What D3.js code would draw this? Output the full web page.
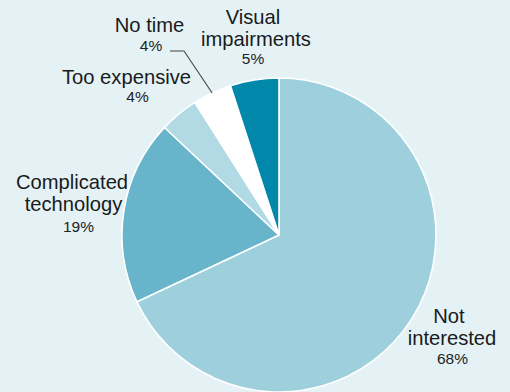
<!DOCTYPE html>
<html>
<head>
<meta charset="utf-8">
<script src="https://cdn.jsdelivr.net/npm/d3@7"></script>
<style>
  html, body { margin: 0; padding: 0; background: #e4f2f6; }
  svg { display: block; }
  text { font-family: "Liberation Sans", Arial, Helvetica, sans-serif; fill: #1a1a1a; }
</style>
</head>
<body>
<svg id="chart" width="510" height="392"></svg>
<script>
// Reasons for not using the service, share of respondents (%)
const categories = ["Not interested", "Complicated technology", "Too expensive", "No time", "Visual impairments"];
const values = [68, 19, 4, 4, 5];
const labelLines = [["Not", "interested"], ["Complicated", "technology"], ["Too expensive"], ["No time"], ["Visual", "impairments"]];
const colors = ["#9dcfdd", "#67b4cb", "#b1dae4", "#ffffff", "#0087aa"];

// Label placement: name lines (x, baseline y of first line), percentage position
const labelLayout = {
  "Not interested":         { x: [449, 452], y: 323, px: 452.5, py: 364 },
  "Complicated technology": { x: [72, 73.5], y: 189, px: 78.5, py: 232 },
  "Too expensive":          { x: [126.5],    y: 84,  px: 137.5, py: 102 },
  "No time":                { x: [149.5],    y: 32,  px: 151,   py: 51, leader: [[170, 51], [184, 51]] },
  "Visual impairments":     { x: [253, 256], y: 24,  px: 253,   py: 64 }
};

const svg = d3.select("#chart");
const cx = 279, cy = 235, radius = 157;
const lineGap = 21.5;

const data = categories.map((c, i) => ({ name: c, value: values[i], lines: labelLines[i], color: colors[i] }));

const pie = d3.pie().value(d => d.value).sort(null).startAngle(0).endAngle(2 * Math.PI);
const arc = d3.arc().innerRadius(0).outerRadius(radius);
const arcs = pie(data);

const g = svg.append("g").attr("transform", `translate(${cx},${cy})`);
g.selectAll("path.slice")
  .data(arcs)
  .join("path")
  .attr("class", "slice")
  .attr("d", arc)
  .attr("fill", d => d.data.color)
  .attr("stroke", "#ffffff")
  .attr("stroke-width", 1.6)
  .attr("stroke-linejoin", "round");

// Labels
arcs.forEach(a => {
  const L = labelLayout[a.data.name];
  const t = svg.append("text").attr("font-size", 20.2).attr("text-anchor", "middle");
  a.data.lines.forEach((ln, j) => {
    t.append("tspan").attr("x", L.x[j]).attr("y", L.y + j * lineGap).text(ln);
  });
  svg.append("text")
    .attr("x", L.px).attr("y", L.py)
    .attr("text-anchor", "middle")
    .attr("font-size", 15.5)
    .style("fill", "#222")
    .text(a.data.value + "%");

  if (L.leader) {
    const mid = (a.startAngle + a.endAngle) / 2;
    const end = [cx + radius * Math.sin(mid), cy - radius * Math.cos(mid)];
    svg.append("path")
      .attr("d", d3.line()(L.leader.concat([end])))
      .attr("fill", "none")
      .attr("stroke", "#444")
      .attr("stroke-width", 1.1);
  }
});
</script>
</body>
</html>
